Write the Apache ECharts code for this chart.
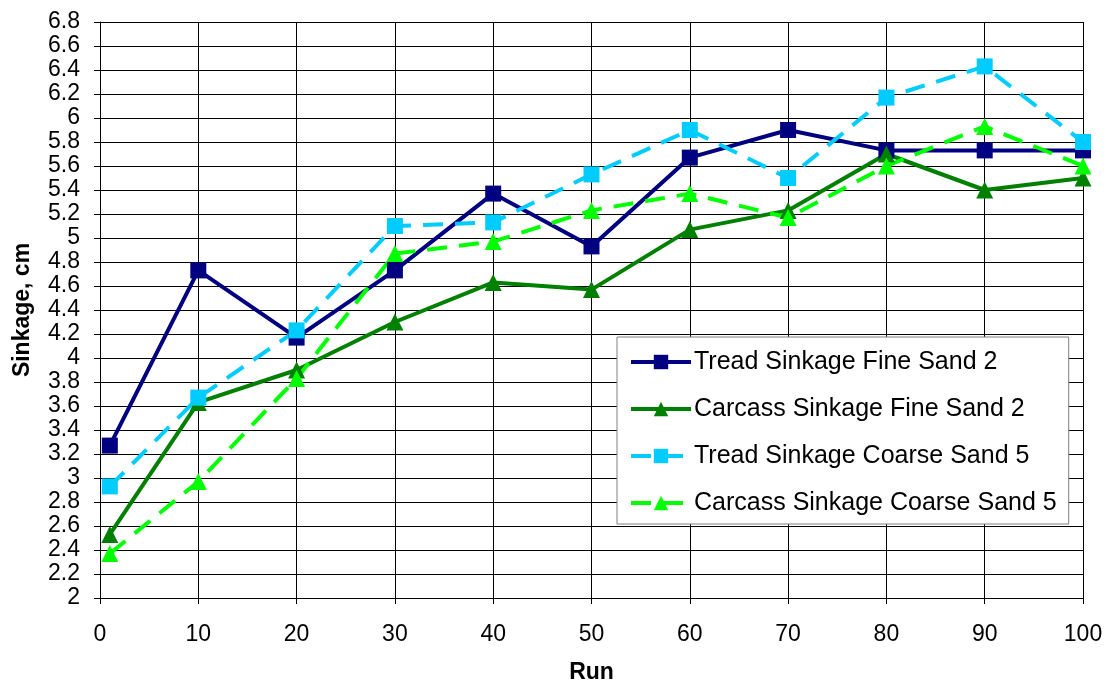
<!DOCTYPE html>
<html>
<head>
<meta charset="utf-8">
<script src="https://cdn.jsdelivr.net/npm/echarts@6/dist/echarts.min.js"></script>
<style>
html,body{margin:0;padding:0;background:#fff;}
#chart{width:1109px;height:684px;}
</style>
</head>
<body>
<div id="chart"></div>
<script>
// Run numbers at which sinkage was measured
const runs = [1, 10, 20, 30, 40, 50, 60, 70, 80, 90, 100];

// Sinkage in cm for each series
const treadFine    = [3.27, 4.73, 4.17, 4.73, 5.37, 4.93, 5.67, 5.90, 5.73, 5.73, 5.73];
const carcassFine  = [2.53, 3.63, 3.90, 4.30, 4.63, 4.57, 5.07, 5.23, 5.70, 5.40, 5.50];
const treadCoarse  = [2.93, 3.67, 4.23, 5.10, 5.13, 5.53, 5.90, 5.50, 6.17, 6.43, 5.80];
const carcassCoarse= [2.37, 2.97, 3.83, 4.87, 4.97, 5.23, 5.37, 5.17, 5.60, 5.93, 5.60];

const seriesNames = [
  'Tread Sinkage Fine Sand 2',
  'Carcass Sinkage Fine Sand 2',
  'Tread Sinkage Coarse Sand 5',
  'Carcass Sinkage Coarse Sand 5'
];

const pair = vals => runs.map((r, i) => [r, vals[i]]);
const font = 'Liberation Sans, Arial, sans-serif';
const triangle = 'path://M0,10 L5,0 L10,10 Z';

function makeSeries(name, vals, color, symbol, size, dashed) {
  return {
    name: name,
    type: 'line',
    data: pair(vals),
    symbol: symbol,
    symbolSize: size,
    showSymbol: true,
    itemStyle: { color: color, borderWidth: 0 },
    lineStyle: { color: color, width: 4, type: dashed ? [20, 12] : 'solid' },
    emphasis: { disabled: true },
    z: 3
  };
}

const chart = echarts.init(document.getElementById('chart'), null, { renderer: 'canvas' });
chart.setOption({
  animation: false,
  backgroundColor: '#ffffff',
  grid: {
    left: 100, right: 26, top: 22, bottom: 86,
    containLabel: false,
    outerBoundsMode: 'none'
  },
  xAxis: {
    type: 'value',
    min: 0, max: 100, interval: 10,
    name: 'Run',
    nameLocation: 'middle',
    nameGap: 63,
    nameTextStyle: { fontFamily: font, fontSize: 23, fontWeight: 'bold', color: '#000' },
    axisLine: { lineStyle: { color: '#000', width: 1 } },
    axisTick: { show: true, length: 6, lineStyle: { color: '#000' } },
    axisLabel: { fontFamily: font, fontSize: 23, color: '#000', margin: 25 },
    splitLine: { show: true, lineStyle: { color: '#000', width: 1 } }
  },
  yAxis: {
    type: 'value',
    min: 2, max: 6.8, interval: 0.2,
    name: 'Sinkage, cm',
    nameLocation: 'middle',
    nameGap: 66,
    nameRotate: 90,
    nameTextStyle: { fontFamily: font, fontSize: 23, fontWeight: 'bold', color: '#000' },
    axisLine: { show: true, lineStyle: { color: '#000', width: 1 } },
    axisTick: { show: true, length: 6, lineStyle: { color: '#000' } },
    axisLabel: {
      fontFamily: font, fontSize: 23, color: '#000', margin: 20,
      formatter: v => String(Math.round(v * 10) / 10)
    },
    splitLine: { show: true, lineStyle: { color: '#000', width: 1 } }
  },
  legend: {
    orient: 'vertical',
    left: 617,
    top: 337,
    width: 452,
    padding: [12, 12, 8, 12],
    itemGap: 21,
    itemWidth: 60,
    itemHeight: 18,
    backgroundColor: '#ffffff',
    borderColor: '#808080',
    borderWidth: 1,
    lineStyle: { width: 4 },
    textStyle: { fontFamily: font, fontSize: 25, lineHeight: 26, color: '#000', padding: [0, 0, 0, -2] },
    data: seriesNames
  },
  series: [
    makeSeries(seriesNames[0], treadFine, '#000080', 'rect', 16, false),
    makeSeries(seriesNames[1], carcassFine, '#008000', triangle, 17, false),
    makeSeries(seriesNames[2], treadCoarse, '#00ccff', 'rect', 16, true),
    makeSeries(seriesNames[3], carcassCoarse, '#00ff00', triangle, 17, true)
  ]
});
</script>
</body>
</html>
